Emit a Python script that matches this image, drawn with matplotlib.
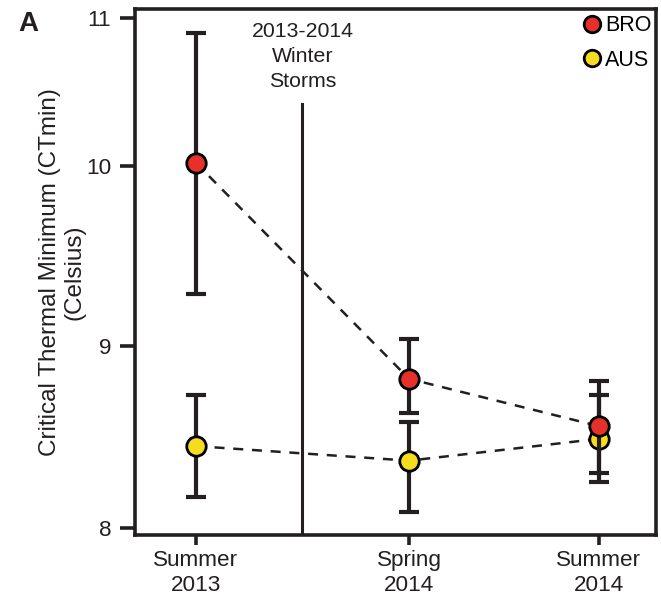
import matplotlib
matplotlib.use("Agg")
import matplotlib.pyplot as plt
import matplotlib.transforms as mtransforms
import numpy as np

plt.rcParams['font.family'] = ['Liberation Sans', 'DejaVu Sans']

# data
seasons = ["Summer\n2013", "Spring\n2014", "Summer\n2014"]
season_x = [1.0, 2.0, 2.89]
storm_x = 1.5

bro_mean = [10.02, 8.82, 8.56]
bro_lo = [9.29, 8.63, 8.30]
bro_hi = [10.90, 9.04, 8.73]

aus_mean = [8.45, 8.37, 8.49]
aus_lo = [8.17, 8.09, 8.25]
aus_hi = [8.73, 8.58, 8.81]

yticks = [8, 9, 10, 11]

# the original y axis is not evenly spaced; mimic it with a piecewise scale
_yv = np.array([7.0, 8.0, 9.0, 10.0, 11.0, 12.0])
_yp = np.array([-1.0, 0.0, 1.0, 1.992, 2.803, 3.614])


def fwd(v):
    return np.interp(v, _yv, _yp)


def inv(p):
    return np.interp(p, _yp, _yv)


fig = plt.figure(figsize=(6.61, 5.98), dpi=100)
ax = fig.add_axes([0.204, 0.105, 0.789, 0.88])
ax.set_yscale('function', functions=(fwd, inv))

ink = '#231f20'

def draw(mean, lo, hi, color, label, z):
    mean = np.array(mean)
    yerr = [mean - np.array(lo), np.array(hi) - mean]
    ax.errorbar(season_x, mean, yerr=yerr, fmt='none', ecolor=ink,
                elinewidth=3, capsize=7, capthick=3, zorder=z)
    ax.plot(season_x, mean, ls=(0, (4, 3.5)), color=ink, lw=1.8, zorder=z)
    ax.plot(season_x, mean, 'o', ms=14, mfc=color, mec='black', mew=2,
            ls='none', zorder=z + 1, label=label)

draw(aus_mean, aus_lo, aus_hi, '#f6dc1e', 'AUS', 3)
draw(bro_mean, bro_lo, bro_hi, '#e8302a', 'BRO', 5)

ax.axvline(storm_x, ymin=0, ymax=0.82, color=ink, lw=2.2, zorder=2)
trans = mtransforms.blended_transform_factory(ax.transData, ax.transAxes)
ax.text(storm_x, 0.976, "2013-2014\nWinter\nStorms", transform=trans,
        ha='center', va='top', fontsize=15.3, color=ink, linespacing=1.4)

ax.set_xlim(0.714, 3.16)
ax.set_ylim(7.96, 11.063)
ax.set_xticks(season_x)
ax.set_xticklabels(seasons)
ax.set_yticks(yticks)
ax.tick_params(axis='both', direction='out', width=2.6,
               labelsize=16.2, colors=ink, labelcolor=ink)
ax.tick_params(axis='y', length=11, pad=6)
ax.tick_params(axis='x', length=7, pad=4)
for s in ax.spines.values():
    s.set_linewidth(2.6)
    s.set_color(ink)

ax.set_ylabel("Critical Thermal Minimum (CTmin)\n(Celsius)", fontsize=17.5,
              color=ink, labelpad=0, linespacing=1.2)

handles, labels = ax.get_legend_handles_labels()
order = [labels.index('BRO'), labels.index('AUS')]
ax.legend([handles[i] for i in order], [labels[i] for i in order],
          loc='upper right', bbox_to_anchor=(1.003, 1.0), frameon=False,
          fontsize=15.5, handletextpad=0.1, handlelength=1.0,
          borderaxespad=0.0, labelspacing=0.62, borderpad=0.3,
          markerscale=0.85)

fig.text(0.027, 0.948, "A", fontsize=20, fontweight='bold', color=ink)

fig.savefig("out.png", dpi=100)
